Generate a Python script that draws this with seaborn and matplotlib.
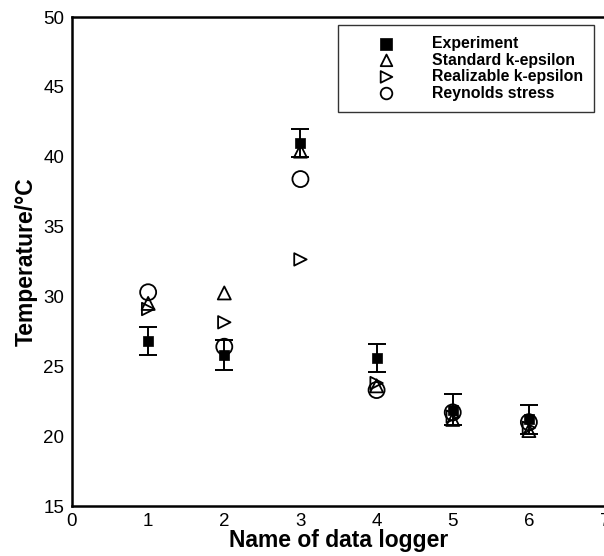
import matplotlib
matplotlib.use("Agg")
import matplotlib.pyplot as plt
import seaborn as sns
import pandas as pd

loggers = [1, 2, 3, 4, 5, 6]
experiment = [26.8, 25.8, 41.0, 25.6, 21.9, 21.2]
experiment_err = [1.0, 1.05, 1.0, 1.0, 1.1, 1.05]
standard_ke = [29.5, 30.25, 40.4, 23.6, 21.2, 20.4]
realizable_ke = [29.1, 28.15, 32.65, 23.8, 21.4, 20.6]
reynolds_stress = [30.3, 26.4, 38.4, 23.3, 21.7, 21.0]

sns.set_theme(style="white")
plt.rcParams["font.family"] = ["Liberation Sans", "DejaVu Sans"]
plt.rcParams["text.color"] = "black"
plt.rcParams["axes.labelcolor"] = "black"
plt.rcParams["xtick.color"] = "black"
plt.rcParams["ytick.color"] = "black"

fig = plt.figure(figsize=(6.04, 5.56), dpi=100)
ax = fig.add_axes([0.1192, 0.0899, 0.8825, 0.8795])

df = pd.DataFrame({
    "logger": loggers,
    "Experiment": experiment,
    "Standard k-epsilon": standard_ke,
    "Realizable k-epsilon": realizable_ke,
    "Reynolds stress": reynolds_stress,
})

ax.errorbar(loggers, experiment, yerr=experiment_err, fmt="none",
            ecolor="black", elinewidth=1.4, capsize=6.5, capthick=1.4, zorder=3)
sns.scatterplot(data=df, x="logger", y="Experiment", marker="s", s=52,
                color="black", edgecolor="black", linewidth=0.5, ax=ax,
                label="Experiment", zorder=4)
sns.scatterplot(data=df, x="logger", y="Standard k-epsilon", marker="^", s=88,
                facecolor="none", edgecolor="black", linewidth=1.3, ax=ax,
                label="Standard k-epsilon", zorder=4)
sns.scatterplot(data=df, x="logger", y="Realizable k-epsilon", marker=">", s=80,
                facecolor="none", edgecolor="black", linewidth=1.3, ax=ax,
                label="Realizable k-epsilon", zorder=4)
sns.scatterplot(data=df, x="logger", y="Reynolds stress", marker="o", s=133,
                facecolor="none", edgecolor="black", linewidth=1.3, ax=ax,
                label="Reynolds stress", zorder=4)

ax.set_xlim(0, 7)
ax.set_ylim(15, 50)
ax.set_xticks(range(0, 8))
ax.set_yticks(range(15, 51, 5))
ax.tick_params(axis="both", direction="in", length=8.6, width=1.5,
               labelsize=13.5, colors="black")
ax.tick_params(axis="x", pad=5)
ax.tick_params(axis="y", pad=5.5)
for side in ["left", "bottom", "top", "right"]:
    ax.spines[side].set_color("black")
    ax.spines[side].set_linewidth(1.8)

ax.set_xlabel("Name of data logger", fontsize=16.5, fontweight="bold", labelpad=-1)
ax.set_ylabel("Temperature/°C", fontsize=16.5, fontweight="bold", labelpad=4)

leg = ax.legend(loc="upper right", bbox_to_anchor=(0.979, 0.984),
                prop={"weight": "bold", "size": 11.4}, frameon=True,
                fancybox=False, edgecolor="black", borderpad=0.7,
                handlelength=4.7, handletextpad=0.5, labelspacing=0.1,
                borderaxespad=0)
leg.get_frame().set_linewidth(1.0)
for h in leg.legend_handles:
    h.set_sizes([70])

fig.savefig("out.png", dpi=100)
